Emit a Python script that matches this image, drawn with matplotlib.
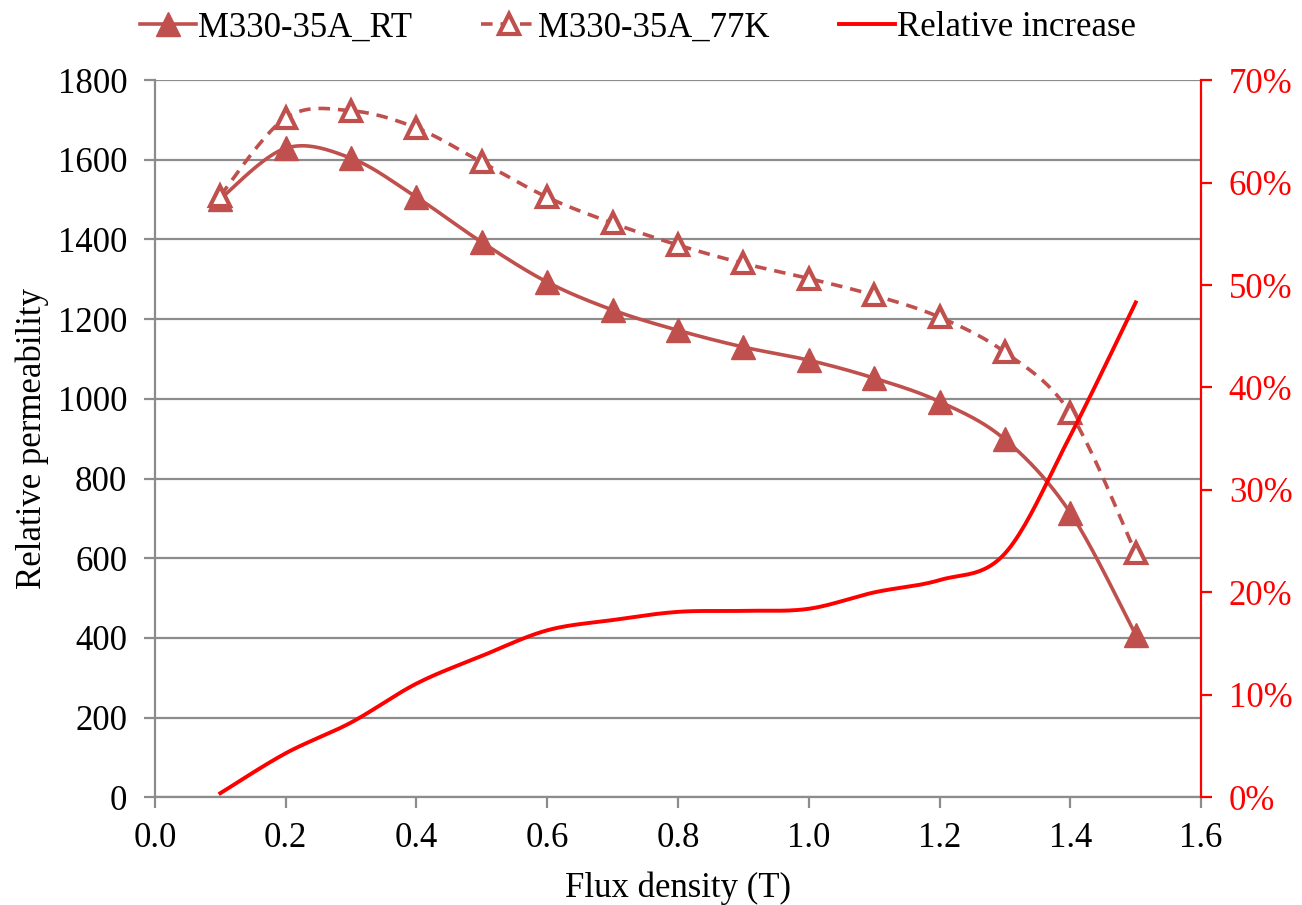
import matplotlib
matplotlib.use("Agg")
import matplotlib.pyplot as plt
from matplotlib.ticker import FuncFormatter, MultipleLocator
import numpy as np

# values
flux = [0.1, 0.2, 0.3, 0.4, 0.5, 0.6, 0.7, 0.8, 0.9, 1.0, 1.1, 1.2, 1.3, 1.4, 1.5]
perm_rt = [1502, 1629, 1604, 1506, 1393, 1293, 1223, 1172, 1130, 1097, 1052, 993, 898, 714, 408]
perm_77k = [1510, 1705, 1723, 1680, 1594, 1506, 1441, 1386, 1340, 1302, 1260, 1205, 1117, 964, 613]
rel_increase = [0.004, 0.043, 0.073, 0.111, 0.138, 0.163, 0.173, 0.181, 0.182, 0.184, 0.200, 0.212, 0.238, 0.353, 0.483]

labels = ["M330-35A_RT", "M330-35A_77K", "Relative increase"]

brick = "#C0504D"
red = "#FF0000"
grid_grey = "#8C8C8C"


def smooth(x, y, n=24):
    # Excel-like smoothed line: cubic Bezier segments with Catmull-Rom tangents
    x = np.asarray(x, float)
    y = np.asarray(y, float)
    px = np.concatenate([[x[0]], x, [x[-1]]])
    py = np.concatenate([[y[0]], y, [y[-1]]])
    t = np.linspace(0, 1, n)
    xs, ys = [], []
    for i in range(1, len(px) - 2):
        p0 = np.array([px[i], py[i]])
        p3 = np.array([px[i + 1], py[i + 1]])
        p1 = p0 + (p3 - np.array([px[i - 1], py[i - 1]])) / 6.0
        p2 = p3 - (np.array([px[i + 2], py[i + 2]]) - p0) / 6.0
        b = ((1 - t) ** 3)[:, None] * p0 + (3 * (1 - t) ** 2 * t)[:, None] * p1 \
            + (3 * (1 - t) * t ** 2)[:, None] * p2 + (t ** 3)[:, None] * p3
        xs.append(b[:, 0])
        ys.append(b[:, 1])
    return np.concatenate(xs), np.concatenate(ys)


plt.rcParams["font.family"] = ["Liberation Serif", "DejaVu Serif"]
plt.rcParams["font.size"] = 25

fig = plt.figure(figsize=(13.02, 9.05), dpi=100)
ax = fig.add_axes([0.119, 0.119, 0.8035, 0.7925])
ax2 = ax.twinx()

# primary axis: permeability
sx, sy = smooth(flux, perm_rt)
ax.plot(sx, sy, color=brick, lw=2.6, zorder=3)
ax.plot(flux, perm_rt, ls="none", marker="^", ms=17, color=brick, zorder=4)
sx, sy = smooth(flux, perm_77k)
ax.plot(sx, sy, color=brick, lw=2.6, dashes=(3.2, 2.2), zorder=3)
ax.plot(flux, perm_77k, ls="none", marker="^", ms=15, mfc="white", mec=brick, mew=3, zorder=4)

ax.set_xlim(0, 1.6)
ax.set_ylim(0, 1800)
ax.xaxis.set_major_locator(MultipleLocator(0.2))
ax.yaxis.set_major_locator(MultipleLocator(200))
ax.xaxis.set_major_formatter(FuncFormatter(lambda v, p: f"{v:.1f}"))
ax.grid(axis="y", color=grid_grey, lw=1.6)
ax.set_axisbelow(True)
for s in ["top", "right"]:
    ax.spines[s].set_visible(False)
for s in ["left", "bottom"]:
    ax.spines[s].set_color(grid_grey)
    ax.spines[s].set_linewidth(1.6)
ax.tick_params(axis="y", direction="out", length=8, width=1.6, color=grid_grey, pad=12)
ax.tick_params(axis="x", direction="out", length=8, width=1.6, color=grid_grey, pad=10)
ax.set_xlabel("Flux density (T)", labelpad=12)
ax.set_ylabel("Relative permeability", labelpad=6)

# secondary axis: relative increase
sx, sy = smooth(flux, rel_increase)
ax2.plot(sx, sy, color=red, lw=2.8, zorder=5)
ax2.set_ylim(0, 0.7)
ax2.yaxis.set_major_locator(MultipleLocator(0.1))
ax2.yaxis.set_major_formatter(FuncFormatter(lambda v, p: f"{v * 100:.0f}%"))
for s in ["top", "left", "bottom"]:
    ax2.spines[s].set_visible(False)
ax2.spines["right"].set_color(red)
ax2.spines["right"].set_linewidth(1.6)
ax2.tick_params(axis="y", direction="out", length=8, width=1.6, color=red, labelcolor=red, pad=12)

# legend
h1, = ax.plot([], [], color=brick, lw=2.6, marker="^", ms=17)
h2, = ax.plot([], [], color=brick, lw=2.6, dashes=(3.2, 2.2), marker="^", ms=15, mfc="white", mec=brick, mew=3)
h3, = ax.plot([], [], color=red, lw=2.8)
fig.legend([h1, h2, h3], labels, loc="upper center", bbox_to_anchor=(0.49, 1.022), ncol=3,
           frameon=False, handlelength=1.6, handletextpad=0.05, columnspacing=2.0)

fig.savefig("out.png", dpi=100)
